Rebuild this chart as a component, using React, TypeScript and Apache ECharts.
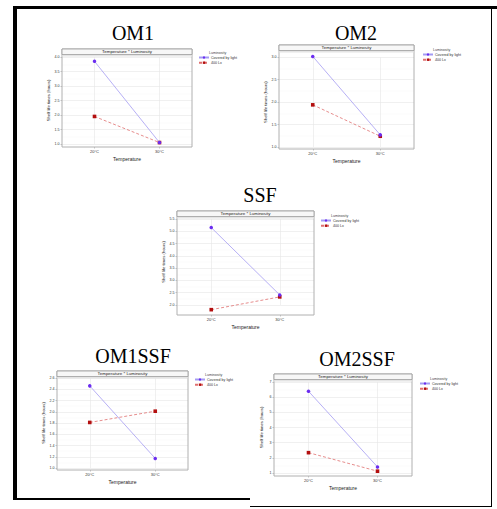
import React, { useEffect, useRef } from "react";
import * as echarts from "echarts";

// ---- data ----
const temperatures = ["20°C", "30°C"];
const panelNames = ["OM1", "OM2", "SSF", "OM1SSF", "OM2SSF"];
const seriesNames = ["Covered by light", "400 Lx"];
const coveredByLight = [
  [3.85, 1.05],
  [3.02, 1.27],
  [5.15, 2.41],
  [2.46, 1.17],
  [6.39, 1.4],
];
const lux400 = [
  [1.95, 1.05],
  [1.94, 1.24],
  [1.81, 2.33],
  [1.81, 2.01],
  [2.34, 1.12],
];
const yMin = [1.0, 1.0, 2.0, 1.0, 1];
const yMax = [4.0, 3.0, 5.5, 2.6, 7];
const yStep = [0.5, 0.5, 0.5, 0.2, 1];
const yDecimals = [1, 1, 1, 1, 0];
const facetLabel = "Temperature * Luminosity";
const legendTitle = "Luminosity";
const xTitle = "Temperature";
const yTitle = "Shelf life times (hours)";

// ---- layout (pixels) ----
const panels = [
  { x: 62, y: 49, w: 130, h: 98, tickTop: 57, tickBottom: 144, tx: 133, ty: 33, lx: 198, ly: 53 },
  { x: 279, y: 45, w: 135, h: 104, tickTop: 57.3, tickBottom: 147, tx: 356, ty: 33, lx: 422, ly: 50 },
  { x: 177, y: 211, w: 137, h: 104, tickTop: 219, tickBottom: 305, tx: 260, ty: 195, lx: 320, ly: 216 },
  { x: 57, y: 371, w: 131, h: 99, tickTop: 378, tickBottom: 468, tx: 133, ty: 356, lx: 194, ly: 375 },
  { x: 274, y: 374, w: 138, h: 102, tickTop: 382, tickBottom: 473, tx: 357, ty: 359, lx: 419, ly: 379 },
];
const STRIP_H = 5.5;
const SANS = "Liberation Sans";

export default function App() {
  const ref = useRef<HTMLDivElement>(null);
  useEffect(() => {
    if (!ref.current) return;
    const chart = echarts.init(ref.current, undefined, { renderer: "svg" });

    const grid: any[] = [];
    const xAxis: any[] = [];
    const yAxis: any[] = [];
    const series: any[] = [];
    const legend: any[] = [];
    const graphic: any[] = [];

    // outer frame
    graphic.push(
      { type: "rect", shape: { x: 13, y: 6, width: 4, height: 494 }, style: { fill: "#000" }, z: 100 },
      { type: "rect", shape: { x: 13, y: 6, width: 484, height: 3 }, style: { fill: "#000" }, z: 100 },
      { type: "rect", shape: { x: 491, y: 6, width: 1, height: 501 }, style: { fill: "#000" }, z: 100 },
      { type: "rect", shape: { x: 13, y: 498, width: 237, height: 2 }, style: { fill: "#000" }, z: 100 },
      { type: "rect", shape: { x: 250, y: 506, width: 242, height: 1 }, style: { fill: "#000" }, z: 100 }
    );

    panels.forEach((p, i) => {
      grid.push({
        left: p.x,
        top: p.tickTop,
        width: p.w,
        height: p.tickBottom - p.tickTop,
        containLabel: false,
      });
      xAxis.push({
        type: "category",
        gridIndex: i,
        data: temperatures,
        boundaryGap: true,
        offset: p.y + p.h - p.tickBottom,
        axisLine: { show: false, onZero: false },
        axisTick: { show: true, alignWithLabel: true, length: 1.5, lineStyle: { color: "#888", width: 0.5 } },
        axisLabel: { fontSize: 4, color: "#333", margin: 2, fontFamily: SANS },
        splitLine: { show: true, alignWithLabel: true, lineStyle: { color: "#e6e6e6", width: 0.6 } },
        name: xTitle,
        nameLocation: "middle",
        nameGap: 9.5,
        nameTextStyle: { fontSize: 5, color: "#222", fontFamily: SANS },
      });
      yAxis.push({
        type: "value",
        gridIndex: i,
        min: yMin[i],
        max: yMax[i],
        interval: yStep[i],
        axisLine: { show: false },
        axisTick: { show: true, length: 1.5, lineStyle: { color: "#888", width: 0.5 } },
        axisLabel: {
          fontSize: 3.6,
          color: "#333",
          margin: 2.5,
          fontFamily: SANS,
          formatter: (v: number) => v.toFixed(yDecimals[i]),
        },
        splitLine: { show: true, lineStyle: { color: "#e6e6e6", width: 0.6 } },
        minorTick: { show: false, splitNumber: 2 },
        minorSplitLine: { show: true, lineStyle: { color: "#f3f3f3", width: 0.4 } },
        name: yTitle,
        nameLocation: "middle",
        nameGap: 10.5,
        nameTextStyle: { fontSize: 4.2, color: "#222", fontFamily: SANS },
      });
      series.push(
        {
          type: "line",
          name: seriesNames[0],
          xAxisIndex: i,
          yAxisIndex: i,
          data: coveredByLight[i],
          clip: false,
          symbol: "circle",
          symbolSize: 3.5,
          itemStyle: { color: "#6b2cf0" },
          lineStyle: { color: "#a59cf3", width: 0.8 },
          z: 3,
        },
        {
          type: "line",
          name: seriesNames[1],
          xAxisIndex: i,
          yAxisIndex: i,
          data: lux400[i],
          clip: false,
          symbol: "rect",
          symbolSize: 3.6,
          itemStyle: { color: "#b30f0f" },
          lineStyle: { color: "#e07070", width: 0.8, type: [3, 2] },
          z: 2,
        }
      );
      legend.push({
        data: seriesNames,
        orient: "vertical",
        left: p.lx,
        top: p.ly + 2.5,
        itemWidth: 10,
        itemHeight: 3,
        itemGap: 1.2,
        padding: 0,
        textStyle: { fontSize: 3.6, color: "#333", fontFamily: SANS, padding: [0, 0, 0, -3] },
      });
      // title
      graphic.push({
        type: "text",
        x: p.tx,
        y: p.ty,
        style: {
          text: panelNames[i],
          fontSize: 20,
          fontFamily: "Liberation Serif",
          fill: "#000",
          textAlign: "center",
          textVerticalAlign: "middle",
        },
      });
      // legend title
      graphic.push({
        type: "text",
        x: p.lx + 11,
        y: p.ly,
        style: {
          text: legendTitle,
          fontSize: 3.6,
          fontFamily: SANS,
          fill: "#444",
          textAlign: "left",
          textVerticalAlign: "middle",
        },
      });
      // panel border
      graphic.push({
        type: "rect",
        shape: { x: p.x, y: p.y, width: p.w, height: p.h },
        style: { fill: "none", stroke: "#b0b0b0", lineWidth: 1 },
        z: 10,
      });
      // strip
      graphic.push({
        type: "rect",
        shape: { x: p.x, y: p.y, width: p.w, height: STRIP_H },
        style: { fill: "#f7f7f7", stroke: "#9a9a9a", lineWidth: 0.8 },
        z: 11,
      });
      graphic.push({
        type: "rect",
        shape: { x: p.x + 0.5, y: p.y + STRIP_H + 0.4, width: p.w - 1, height: 1.5 },
        style: { fill: "#e4e4e4" },
        z: 11,
      });
      graphic.push({
        type: "text",
        x: p.x + p.w / 2,
        y: p.y + STRIP_H / 2 + 0.2,
        style: {
          text: facetLabel,
          fontSize: 4.4,
          fontFamily: SANS,
          fill: "#222",
          textAlign: "center",
          textVerticalAlign: "middle",
        },
        z: 12,
      });
    });

    chart.setOption({
      animation: false,
      backgroundColor: "#fff",
      grid,
      xAxis,
      yAxis,
      series,
      legend,
      graphic,
    });
    return () => chart.dispose();
  }, []);
  return (
    <div
      ref={ref}
      style={{ position: "fixed", left: 0, top: 0, width: 497, height: 509, background: "#fff" }}
    />
  );
}
